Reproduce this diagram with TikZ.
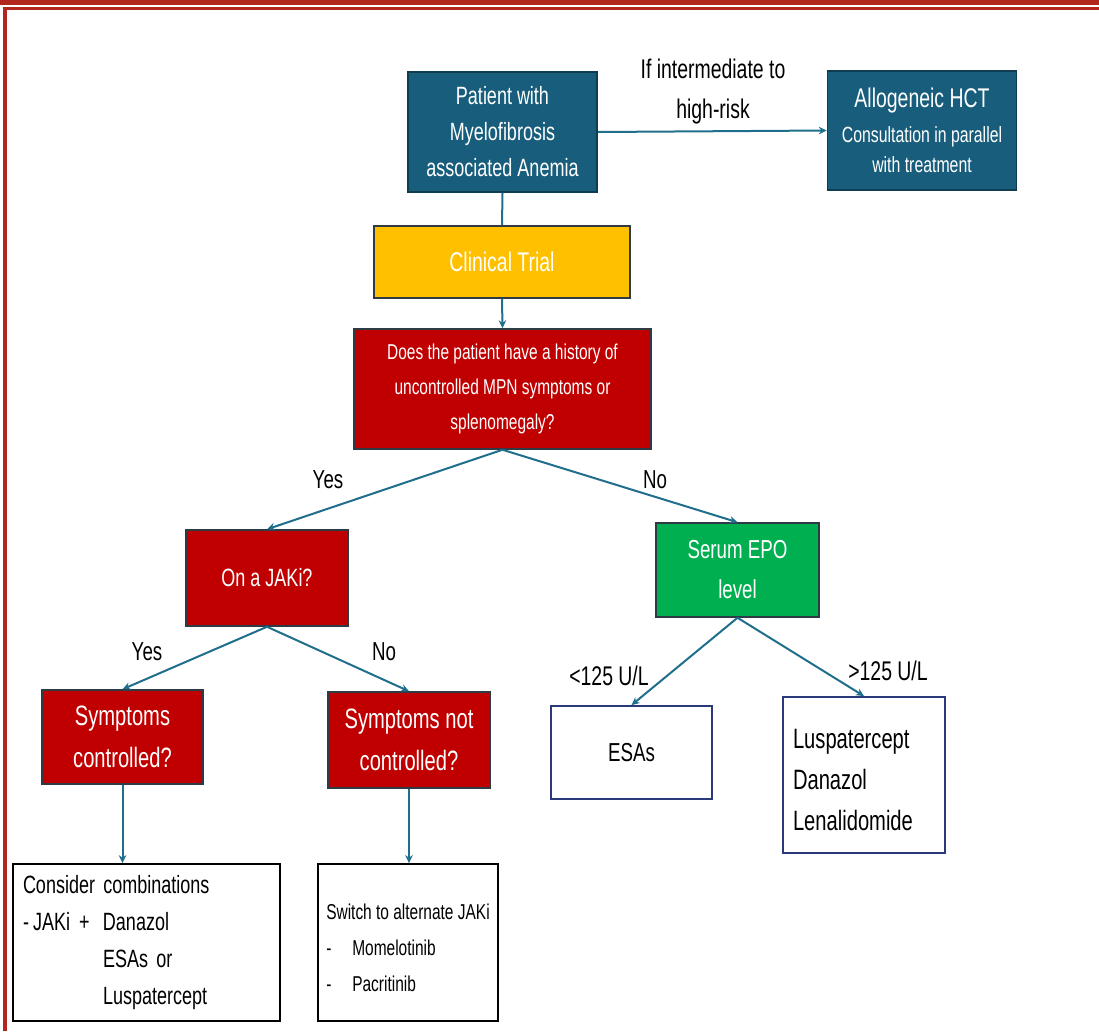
\documentclass[tikz,border=0pt]{standalone}
\usepackage{fontspec}
\setmainfont{Liberation Sans}[FakeStretch=0.72]
\usetikzlibrary{arrows.meta}
\definecolor{tealbox}{HTML}{185E7C}
\definecolor{tealedge}{HTML}{0F3D50}
\definecolor{redbox}{HTML}{C00000}
\definecolor{goldbox}{HTML}{FFC000}
\definecolor{greenbox}{HTML}{00B050}
\definecolor{darkedge}{HTML}{2E3B45}
\definecolor{navyedge}{HTML}{2A3A78}
\definecolor{arrowc}{HTML}{1F6E8C}
\definecolor{bordred}{HTML}{B3261E}
\begin{document}
\begin{tikzpicture}[x=1pt,y=-1pt,
  filled/.style={draw=darkedge, line width=1.5pt, text=white, inner sep=0pt, align=center},
  tealnode/.style={filled, fill=tealbox, draw=tealedge},
  rednode/.style={filled, fill=redbox},
  goldnode/.style={filled, fill=goldbox},
  greennode/.style={filled, fill=greenbox},
  plainnode/.style={draw=black, line width=1.8pt, fill=white, text=black, inner ysep=0pt},
  navynode/.style={plainnode, draw=navyedge},
  lbl/.style={text=black, inner sep=0pt, align=center},
  conn/.style={draw=arrowc, line width=2pt, -{Stealth[length=8pt,width=7.5pt]}},
  plainconn/.style={draw=arrowc, line width=2pt}
]
\useasboundingbox (0,0) rectangle (1099,1031);
% page frame
\fill[bordred] (0,0) rectangle (1099,4.5);
\fill[bordred] (3,6.5) rectangle (1099,10);
\fill[bordred] (3,6.5) rectangle (6.5,1031);

% top row
\node[tealnode, minimum width=189pt, minimum height=120pt,
      font=\fontsize{25}{36}\selectfont] (pat) at (502.5,132)
  {Patient with\\Myelofibrosis\\associated Anemia};
\node[tealnode, minimum width=189pt, minimum height=119pt,
      font=\fontsize{22}{30}\selectfont] (hct) at (922,130.5)
  {{\fontsize{27}{30}\selectfont Allogeneic HCT}\\[5pt]Consultation in parallel\\with treatment};
\node[lbl, font=\fontsize{27}{40}\selectfont] (risk) at (713,92)
  {If intermediate to\\high-risk};

% clinical trial
\node[goldnode, minimum width=256pt, minimum height=72pt,
      font=\fontsize{27}{32}\selectfont] (ct) at (502,262) {Clinical Trial};

% question
\node[rednode, minimum width=297pt, minimum height=120pt,
      font=\fontsize{21.5}{35}\selectfont] (q) at (502.5,389)
  {\rule{0pt}{4pt}Does the patient have a history of\\uncontrolled MPN symptoms or\\splenomegaly?};

% second level
\node[rednode, minimum width=162pt, minimum height=96pt,
      font=\fontsize{25}{32}\selectfont] (jaki) at (267,578) {On a JAKi?};
\node[greennode, minimum width=163pt, minimum height=94pt,
      font=\fontsize{26}{40}\selectfont] (epo) at (737.5,570) {Serum EPO\\level};

% third level
\node[rednode, minimum width=161pt, minimum height=94pt,
      font=\fontsize{28}{42}\selectfont] (sc) at (122.5,737) {Symptoms\\controlled?};
\node[rednode, minimum width=162pt, minimum height=96pt,
      font=\fontsize{28}{42}\selectfont] (snc) at (409,740) {Symptoms not\\controlled?};
\node[navynode, minimum width=161pt, minimum height=93pt,
      font=\fontsize{26}{32}\selectfont] (esas) at (631.5,752.5) {ESAs};
\node[navynode, inner xsep=10pt, text width=142pt, minimum height=156pt, align=left,
      font=\fontsize{28}{41}\selectfont] (lus) at (864,775)
  {\rule{0pt}{30pt}Luspatercept\\Danazol\\Lenalidomide};

% bottom boxes
\node[plainnode, inner xsep=10pt, text width=247pt, minimum height=157pt, align=left,
      font=\fontsize{25}{37}\selectfont] (cons) at (146.5,942.5)
  {Consider combinations\\
   \makebox[80pt][l]{-\,JAKi\hspace{9pt}+}Danazol\\
   \hspace*{80pt}ESAs or\\
   \hspace*{80pt}Luspatercept};
\node[plainnode, inner xsep=0pt, minimum width=180pt, minimum height=157pt, align=left,
      font=\fontsize{21.5}{36}\selectfont] (sw) at (408,942.5)
  {\rule{0pt}{26pt}Switch to alternate JAKi\\
   \makebox[26pt][l]{-}Momelotinib\\
   \makebox[26pt][l]{-}Pacritinib};

% labels
\node[lbl, font=\fontsize{26}{30}\selectfont] (yes1) at (328,480) {Yes};
\node[lbl, font=\fontsize{26}{30}\selectfont] (no1) at (655,480) {No};
\node[lbl, font=\fontsize{26}{30}\selectfont] (yes2) at (147,652) {Yes};
\node[lbl, font=\fontsize{26}{30}\selectfont] (no2) at (384,652) {No};
\node[lbl, font=\fontsize{27}{30}\selectfont] (lo) at (609,676) {<125 U/L};
\node[lbl, font=\fontsize{27}{30}\selectfont] (hi) at (888,671) {>125 U/L};

% connectors
\draw[conn] (pat.east) -- (hct.west);
\draw[plainconn] (pat.south) -- (ct.north);
\draw[conn] (ct.south) -- (q.north);
\draw[conn] (q.south) -- (jaki.north);
\draw[conn] (q.south) -- (epo.north);
\draw[conn] (jaki.south) -- (sc.north);
\draw[conn] (jaki.south) -- (snc.north);
\draw[conn] (epo.south) -- (esas.north);
\draw[conn] (epo.south) -- (lus.north);
\draw[conn] (sc.south) -- (sc.south |- cons.north);
\draw[conn] (snc.south) -- (snc.south |- sw.north);
\end{tikzpicture}
\end{document}
